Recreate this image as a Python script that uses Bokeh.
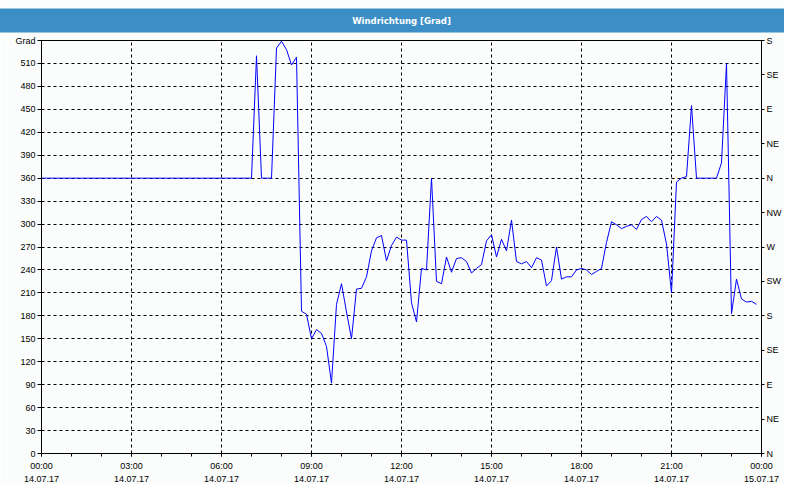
from bokeh.plotting import figure
from bokeh.models import FixedTicker, LinearAxis
from bokeh.embed import file_html
from bokeh.resources import INLINE

# ---------------- data ----------------
title_text = "Windrichtung [Grad]"
sample_step_min = 10  # one reading every 10 minutes, starting 14.07.17 00:00

wind_dir = [
    360, 360, 360, 360, 360, 360, 360, 360, 360, 360, 360, 360,
    360, 360, 360, 360, 360, 360, 360, 360, 360, 360, 360, 360,
    360, 360, 360, 360, 360, 360, 360, 360, 360, 360, 360, 360,
    360, 360, 360, 360, 360, 360,
    360, 520, 360, 360, 360, 530, 539, 528, 508, 518,
    186, 182, 150, 162, 157, 140, 92, 195, 222, 185,
    150, 215, 216, 231, 265, 282, 285, 252, 272, 283,
    279, 279, 197, 172, 242, 240, 360, 225, 222, 257,
    237, 255, 256, 251, 236, 242, 247, 278, 286, 257,
    280, 265, 305, 251, 248, 251, 243, 256, 253, 219,
    226, 270, 228, 231, 231, 240, 242, 240, 234, 238,
    242, 276, 303, 299, 294, 297, 299, 293, 306, 310,
    303, 310, 305, 274, 210, 355, 360, 362, 455, 360,
    360, 360, 360, 360, 380, 510, 183, 228, 202, 198,
    199, 195,
]
hours = [k * sample_step_min / 60 for k in range(len(wind_dir))]

hour_ticks = [0, 3, 6, 9, 12, 15, 18, 21, 24]
minor_hours = list(range(0, 25))
time_labels = ["00:00", "03:00", "06:00", "09:00", "12:00", "15:00", "18:00", "21:00", "00:00"]
date_labels = ["14.07.17"] * 8 + ["15.07.17"]

grad_ticks = list(range(0, 541, 30))
grad_top_label = "Grad"
dir_ticks = list(range(0, 541, 45))
dir_labels = ["N", "NE", "E", "SE", "S", "SW", "W", "NW", "N", "NE", "E", "SE", "S"]

# ---------------- style ----------------
BG = "#FAFDFB"
BLUE = "#3C8FC6"
FONT = "Liberation Sans"
FS = "9px"

W, H = 784, 484
B_LEFT, B_RIGHT, B_TOP, B_BOTTOM = 41, 23, 40, 30

p = figure(width=W, height=H, x_range=(0, 24), y_range=(0, 540),
           output_backend="svg", toolbar_location=None,
           min_border_left=B_LEFT, min_border_right=B_RIGHT,
           min_border_top=B_TOP, min_border_bottom=B_BOTTOM)
p.background_fill_color = BG
p.border_fill_color = BG
p.outline_line_color = "black"
p.outline_line_width = 1

# title bar
p.title.text = title_text
p.title.align = "center"
p.title.vertical_align = "top"
p.title.text_font = "DejaVu Sans"
p.title.text_font_size = "8.5px"
p.title.text_font_style = "bold"
p.title.text_color = "white"
p.title.background_fill_color = BLUE
p.title.padding = (420, 7)
p.title.standoff = 12
p.title.offset = 0

p.line(hours, wind_dir, line_color="#0000FF", line_width=1)

# grids
p.xgrid.ticker = FixedTicker(ticks=hour_ticks)
p.ygrid.ticker = FixedTicker(ticks=grad_ticks)
for g in (p.xgrid, p.ygrid):
    g.grid_line_color = "black"
    g.grid_line_dash = "3 3"
    g.grid_line_width = 1

def style_axis(ax):
    ax.axis_line_color = "black"
    ax.major_tick_line_color = "black"
    ax.minor_tick_line_color = "black"
    ax.major_label_text_font = FONT
    ax.major_label_text_font_size = FS
    ax.major_label_text_color = "black"
    ax.major_tick_in = 0
    ax.minor_tick_in = 0

# bottom: times
xa = p.xaxis[0]
style_axis(xa)
xa.ticker = FixedTicker(ticks=hour_ticks, minor_ticks=minor_hours)
xa.major_label_overrides = {h: t for h, t in zip(hour_ticks, time_labels)}
xa.major_tick_out = 3
xa.minor_tick_out = 3
xa.major_label_standoff = 4

# bottom: dates
xd = LinearAxis(ticker=FixedTicker(ticks=hour_ticks),
                major_label_overrides={h: d for h, d in zip(hour_ticks, date_labels)})
style_axis(xd)
xd.axis_line_color = None
xd.major_tick_line_color = None
xd.minor_tick_line_color = None
xd.major_tick_out = 0
xd.minor_tick_out = 0
xd.major_label_standoff = 2
p.add_layout(xd, "below")

# left: degrees
ya = p.yaxis[0]
style_axis(ya)
ya.ticker = FixedTicker(ticks=grad_ticks)
ya.major_label_overrides = {540: grad_top_label}
ya.major_tick_out = 4
ya.minor_tick_out = 0
ya.major_label_standoff = 2

# right: compass directions
yr = LinearAxis(ticker=FixedTicker(ticks=dir_ticks),
                major_label_overrides={v: s for v, s in zip(dir_ticks, dir_labels)})
style_axis(yr)
yr.major_tick_out = 3
yr.minor_tick_out = 0
yr.major_label_standoff = 2
p.add_layout(yr, "right")

open("out.html", "w").write(file_html(p, INLINE))
